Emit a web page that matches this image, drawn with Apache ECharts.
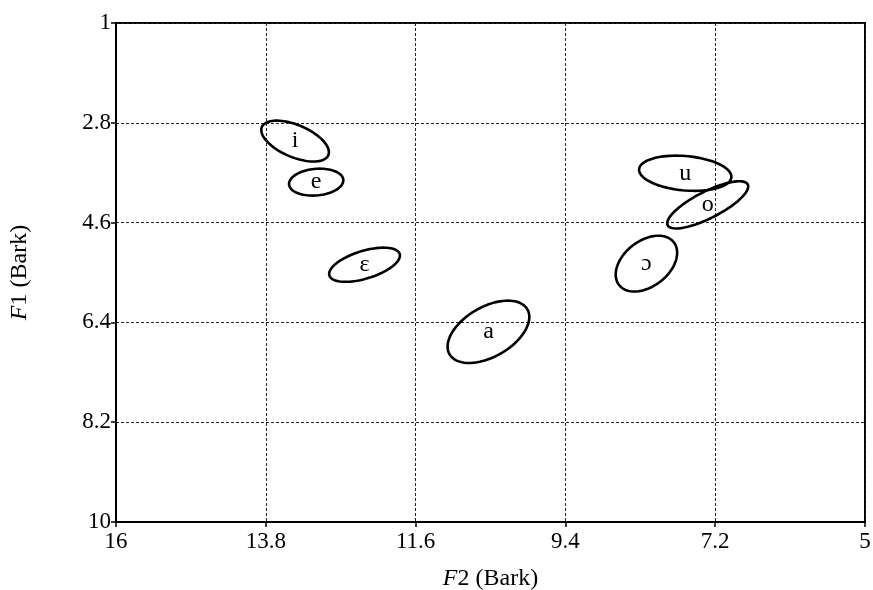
<!DOCTYPE html>
<html>
<head>
<meta charset="utf-8">
<script src="https://cdn.jsdelivr.net/npm/echarts@6/dist/echarts.min.js"></script>
<style>html,body{margin:0;padding:0;background:#fff}#c{width:873px;height:590px}</style>
</head>
<body>
<div id="c"></div>
<script>
// Vowel categories
var vowels = ['i', 'e', 'ɛ', 'a', 'u', 'o', 'ɔ'];
// Ellipse centres (Bark)
var f2Centre = [13.37, 13.06, 12.35, 10.53, 7.64, 7.31, 8.21];
var f1Centre = [3.13, 3.87, 5.36, 6.57, 3.71, 4.28, 5.34];
// Ellipse spreads: semi-major (F2 Bark units), semi-minor (F1 Bark units), tilt (deg, + = rising to the right)
var semiMajor = [0.53, 0.40, 0.54, 0.66, 0.68, 0.66, 0.51];
var semiMinor = [0.29, 0.24, 0.25, 0.45, 0.31, 0.24, 0.41];
var tiltDeg = [-23, 5, 17, 30, -5, 27, 38];
// Tick labels
var f2Ticks = [16, 13.8, 11.6, 9.4, 7.2, 5];
var f1Ticks = [1, 2.8, 4.6, 6.4, 8.2, 10];

var serif = '"Liberation Serif","DejaVu Serif",serif';
var data = vowels.map(function (v, i) {
  return [f2Centre[i], f1Centre[i], semiMajor[i], semiMinor[i], tiltDeg[i], i];
});

function renderItem(params, api) {
  var c = api.coord([api.value(0), api.value(1)]);
  var a = Math.abs(api.size([api.value(2), 0])[0]);
  var b = Math.abs(api.size([0, api.value(3)])[1]);
  var t = api.value(4) * Math.PI / 180;
  var pts = [];
  for (var k = 0; k < 90; k++) {
    var p = k / 90 * 2 * Math.PI;
    var ex = a * Math.cos(p), ey = b * Math.sin(p);
    pts.push([c[0] + ex * Math.cos(t) - ey * Math.sin(t), c[1] - (ex * Math.sin(t) + ey * Math.cos(t))]);
  }
  var idx = api.value(5);
  return {
    type: 'group',
    children: [
      { type: 'polygon', shape: { points: pts }, style: { fill: 'none', stroke: '#000', lineWidth: 2.6 } },
      { type: 'text', x: c[0], y: c[1], style: { text: vowels[idx], font: '24px ' + serif, fill: '#000', align: 'center', verticalAlign: 'middle' } }
    ]
  };
}

var chart = echarts.init(document.getElementById('c'), null, { renderer: 'canvas' });
chart.setOption({
  animation: false,
  backgroundColor: '#fff',
  grid: { left: 116, right: 8, top: 23, bottom: 68, containLabel: false, outerBoundsMode: 'none', show: true, borderColor: '#000', borderWidth: 2, backgroundColor: 'transparent' },
  xAxis: {
    type: 'value', min: 5, max: 16, interval: 2.2, inverse: true,
    name: '{it|F}2 (Bark)', nameLocation: 'middle', nameGap: 45,
    nameTextStyle: { fontFamily: serif, fontSize: 24, color: '#000', rich: { it: { fontFamily: serif, fontStyle: 'italic', fontSize: 24, color: '#000' } } },
    axisLine: { show: true, lineStyle: { color: '#000', width: 2 } },
    axisTick: { show: true, inside: false, length: 5, lineStyle: { color: '#000', width: 1.5 } },
    axisLabel: { fontFamily: serif, fontSize: 23, color: '#000', margin: 8, formatter: function (v) { return String(+v.toFixed(1)); } },
    splitLine: { show: true, lineStyle: { color: '#222', width: 1, type: [3, 2] } }
  },
  yAxis: {
    type: 'value', min: 1, max: 10, interval: 1.8, inverse: true,
    name: '{it|F}1 (Bark)', nameLocation: 'middle', nameGap: 84, nameRotate: 90,
    nameTextStyle: { fontFamily: serif, fontSize: 24, color: '#000', rich: { it: { fontFamily: serif, fontStyle: 'italic', fontSize: 24, color: '#000' } } },
    axisLine: { show: true, lineStyle: { color: '#000', width: 2 } },
    axisTick: { show: true, inside: false, length: 5, lineStyle: { color: '#000', width: 1.5 } },
    axisLabel: { fontFamily: serif, fontSize: 23, color: '#000', margin: 5, formatter: function (v) { return String(+v.toFixed(1)); } },
    splitLine: { show: true, lineStyle: { color: '#222', width: 1, type: [3, 2] } }
  },
  series: [{
    type: 'custom',
    renderItem: renderItem,
    data: data,
    encode: { x: 0, y: 1 },
    clip: false
  }]
});
</script>
</body>
</html>
